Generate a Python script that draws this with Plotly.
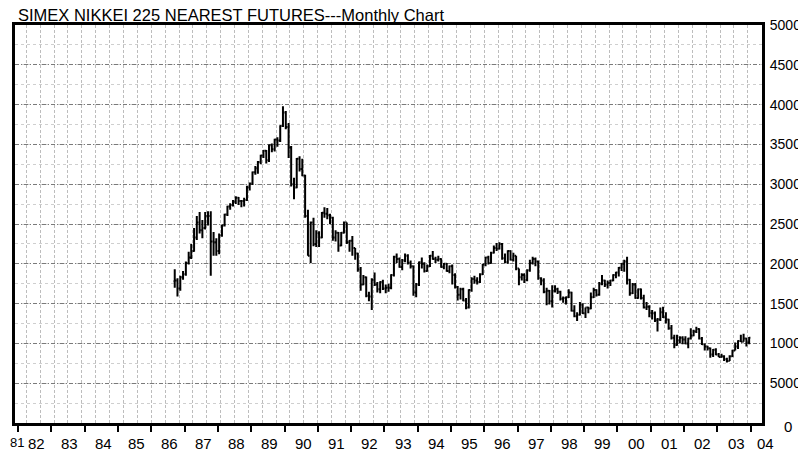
import pandas as pd
import plotly.graph_objects as go

# monthly bars, Sep 1986 .. Dec 2003 (yen)
open_ = [
    17800, 17900, 16900, 18300,  # 1986 Sep-Dec
    18700, 20100, 20800, 21600, 23300, 25200, 24200, 24500, 26000, 26000, 22800, 22700,  # 1987
    21600, 23600, 24800, 26200, 27200, 27400, 27800, 28300, 27900, 27900, 28000, 29600,  # 1988
    30100, 31500, 32000, 32800, 33600, 34200, 33000, 34900, 34400, 35600, 35500, 37300,  # 1989
    39000, 37200, 34600, 30000, 29600, 33200, 31900, 31100, 26000, 21000, 25200, 22500,  # 1990
    23800, 23300, 26400, 26300, 26100, 25800, 23300, 23900, 22300, 23900, 25200, 22700,  # 1991
    22900, 22000, 21300, 19300, 17400, 18300, 16000, 15900, 18000, 17400, 16800, 17700,  # 1992
    16900, 17000, 17000, 18600, 20900, 20600, 19600, 20400, 21000, 20100, 19700, 16400,  # 1993
    17400, 20200, 20000, 19100, 19700, 21000, 20600, 20500, 20600, 19600, 20000, 19100,  # 1994
    19700, 18600, 17100, 16100, 16800, 15400, 14500, 16700, 18100, 17900, 17700, 18700,  # 1995
    19900, 20800, 20100, 21400, 22000, 21900, 22500, 20700, 20200, 21600, 20500, 21000,  # 1996
    19400, 18300, 18600, 18000, 19200, 20100, 20600, 20300, 18200, 17900, 16500, 16600,  # 1997
    15300, 16600, 16800, 16500, 15600, 15700, 15800, 16400, 14100, 13400, 13600, 14900,  # 1998
    13800, 14500, 14400, 15800, 16700, 16100, 17500, 17900, 17400, 17600, 17900, 18600,  # 1999
    18900, 19500, 20000, 20300, 18000, 16300, 17400, 15700, 16800, 15700, 14500, 14600,  # 2000
    13800, 13800, 12900, 13000, 13900, 13300, 13000, 11900, 10700, 9800, 10400, 10700,    # 2001
    10500, 10000, 10600, 11000, 11500, 11800, 10600, 9900, 9600, 9400, 8600, 9200,        # 2002
    8600, 8300, 8400, 8000, 7800, 8400, 9100, 9600, 10300, 10200, 10600, 10100,           # 2003
]
high = [
    19300, 18200, 18500, 19100,
    20300, 21500, 22500, 24500, 26000, 26500, 25500, 26500, 26600, 26600, 24000, 23200,
    23800, 24900, 26300, 27300, 27600, 28000, 28500, 28400, 28000, 28300, 29800, 30200,
    31600, 32300, 32900, 33700, 34300, 34300, 35000, 35100, 35700, 35900, 37400, 39800,
    39200, 37700, 34800, 30800, 33300, 33500, 33200, 31200, 26800, 25300, 25800, 24200,
    24100, 26500, 27100, 27000, 26300, 25900, 24200, 24000, 24000, 25300, 25200, 23000,
    23500, 22000, 21400, 19600, 18600, 18400, 16500, 18200, 18900, 17700, 17800, 18000,
    17400, 17500, 18700, 21000, 21300, 20800, 20600, 21300, 21200, 20400, 19800, 17600,
    20300, 20800, 20200, 19900, 21100, 21600, 20900, 21000, 20700, 20100, 20100, 19800,
    19900, 18800, 17200, 17000, 17000, 15700, 16800, 18300, 18500, 18300, 18800, 20000,
    20900, 21000, 21500, 22300, 22600, 22700, 22600, 21300, 21700, 21700, 21400, 21000,
    19400, 18800, 18800, 19300, 20500, 20900, 20800, 20400, 18300, 18200, 17000, 16700,
    17300, 17300, 17000, 16600, 15900, 15900, 16800, 16500, 14800, 13900, 15200, 15000,
    14500, 14600, 16400, 17000, 16800, 17700, 18600, 18000, 17900, 18000, 18700, 19000,
    19600, 20100, 20500, 20900, 18100, 17600, 17600, 16900, 16900, 16100, 15200, 14800,
    14200, 14000, 13200, 14500, 14600, 13900, 13100, 12300, 11100, 11100, 10900, 10900,
    10900, 10700, 11900, 11700, 12100, 11900, 10800, 10000, 9700, 9500, 9300, 9400,
    8800, 8700, 8500, 8200, 8500, 9200, 10100, 10400, 11100, 11200, 10700, 10800,
]
low = [
    17000, 15900, 16600, 18000,
    18500, 19900, 20600, 21500, 23000, 23800, 23200, 24300, 24800, 18500, 21000, 21000,
    21200, 23400, 24700, 26000, 26800, 27200, 27500, 27400, 27100, 27200, 27900, 29200,
    29900, 31200, 31300, 32500, 33300, 32600, 32800, 34000, 34100, 34700, 35300, 37200,
    36900, 33300, 29700, 28100, 29500, 31600, 31000, 25800, 21000, 20100, 22200, 22100,
    22100, 23200, 25800, 25600, 25000, 22900, 22800, 21500, 22200, 23800, 22500, 21500,
    21000, 20500, 19000, 16600, 17300, 15800, 15300, 14200, 17200, 16400, 16300, 16700,
    16300, 16500, 16800, 18400, 20100, 19500, 19200, 20200, 19900, 19400, 16000, 15800,
    17200, 19400, 18900, 19000, 19600, 20500, 20100, 20300, 19500, 19300, 19000, 18800,
    17400, 16900, 15400, 15500, 15300, 14300, 14400, 16500, 17500, 17400, 17600, 18600,
    19700, 19900, 20000, 21300, 21600, 21800, 20500, 20100, 20000, 20400, 20300, 19200,
    17300, 17900, 17600, 17800, 19000, 19900, 19700, 18000, 17300, 16300, 14800, 14900,
    14500, 16400, 16200, 15400, 15100, 14900, 15700, 14000, 13300, 12800, 13500, 13700,
    13200, 13800, 14300, 15700, 15900, 16000, 17300, 17100, 16900, 17200, 17800, 18200,
    18400, 19100, 19000, 17400, 16000, 16200, 15600, 15600, 15500, 14400, 14200, 13300,
    13000, 12700, 11500, 12800, 13200, 12500, 11700, 10500, 9400, 9700, 10000, 9900,
    9900, 9400, 10500, 10900, 11300, 10500, 9800, 9100, 9100, 8200, 8300, 8500,
    8300, 8200, 7800, 7600, 7800, 8300, 9100, 9300, 10200, 10200, 9600, 9900,
]
close = [
    17900, 16900, 18300, 18700,
    20100, 20800, 21600, 23300, 25200, 24200, 24500, 26000, 26000, 22800, 22700, 21600,
    23600, 24800, 26200, 27200, 27400, 27800, 28300, 27900, 27900, 28000, 29600, 30100,
    31500, 32000, 32800, 33600, 34200, 33000, 34900, 34400, 35600, 35500, 37300, 39000,
    37200, 34600, 30000, 29600, 33200, 31900, 31100, 26000, 21000, 25200, 22500, 23800,
    23300, 26400, 26300, 26100, 25800, 23300, 23900, 22300, 23900, 25200, 22700, 22900,
    22000, 21300, 19300, 17400, 18300, 16000, 15900, 18000, 17400, 16800, 17700, 16900,
    17000, 17000, 18600, 20900, 20600, 19600, 20400, 21000, 20100, 19700, 16400, 17400,
    20200, 20000, 19100, 19700, 21000, 20600, 20500, 20600, 19600, 20000, 19100, 19700,
    18600, 17100, 16100, 16800, 15400, 14500, 16700, 18100, 17900, 17700, 18700, 19900,
    20800, 20100, 21400, 22000, 21900, 22500, 20700, 20200, 21600, 20500, 21000, 19400,
    18300, 18600, 18000, 19200, 20100, 20600, 20300, 18200, 17900, 16500, 16600, 15300,
    16600, 16800, 16500, 15600, 15700, 15800, 16400, 14100, 13400, 13600, 14900, 13800,
    14500, 14400, 15800, 16700, 16100, 17500, 17900, 17400, 17600, 17900, 18600, 18900,
    19500, 20000, 20300, 18000, 16300, 17400, 15700, 16800, 15700, 14500, 14600, 13800,
    13800, 12900, 13000, 13900, 13300, 13000, 11900, 10700, 9800, 10400, 10700, 10500,
    10000, 10600, 11000, 11500, 11800, 10600, 9900, 9600, 9400, 8600, 9200, 8600,
    8300, 8400, 8000, 7800, 8400, 9100, 9600, 10300, 10200, 10600, 10100, 10700,
]

years = list(range(1981, 2005))
price_ticks = [0, 5000, 10000, 15000, 20000, 25000, 30000, 35000, 40000, 45000, 50000]
price_labels = ["", "5000", "10000", "15000", "20000", "25000", "30000",
                "35000", "40000", "45000", "50000"]
title_text = "SIMEX NIKKEI 225 NEAREST FUTURES---Monthly Chart"

months = pd.date_range("1986-09-01", periods=len(close), freq="MS") + pd.Timedelta(days=14)
x_range = ["1981-11-28", "2004-05-04"]
FONT = "Liberation Sans, Arial, Helvetica, sans-serif"

fig = go.Figure()
fig.add_trace(go.Ohlc(
    x=months, open=open_, high=high, low=low, close=close,
    increasing=dict(line=dict(color="black", width=2)),
    decreasing=dict(line=dict(color="black", width=2)),
    tickwidth=0.5, hoverinfo="skip", showlegend=False,
))
# empty trace so the year-tick axis gets drawn
fig.add_trace(go.Scatter(x=[], y=[], xaxis="x2", yaxis="y", showlegend=False, hoverinfo="skip"))

# the page body adds an 8px margin, so the figure is 8px smaller each way
fig.update_layout(
    width=798, height=443,
    margin=dict(l=7, r=44, t=17, b=28),
    paper_bgcolor="white", plot_bgcolor="white",
    showlegend=False,
    font=dict(family=FONT, color="black"),
    xaxis=dict(
        type="date", range=x_range, automargin=False,
        rangeslider=dict(visible=False),
        tick0="1982-04-01", dtick="M5",
        showgrid=True, gridcolor="#bdbdbd", griddash="3px,2px", gridwidth=1,
        showticklabels=False, ticks="",
        showline=True, linecolor="black", linewidth=3, mirror=True,
        zeroline=False,
    ),
    xaxis2=dict(
        type="date", range=x_range, overlaying="x", anchor="y", side="bottom",
        automargin=False,
        tickmode="array", tickvals=[f"{y}-01-01" for y in years[1:]],
        ticks="outside", ticklen=8, tickwidth=1.5, tickcolor="black",
        showticklabels=False, showgrid=False, showline=False, zeroline=False,
    ),
    yaxis=dict(
        range=[0, 50000], side="right", automargin=False,
        tickmode="array", tickvals=price_ticks, ticktext=price_labels,
        tickfont=dict(size=14, family=FONT),
        ticks="", ticklabelstandoff=2,
        showgrid=True, gridcolor="#7a7a7a", griddash="4px,2px,1px,2px", gridwidth=1,
        minor=dict(dtick=2500, tick0=0, showgrid=True, gridcolor="#cfcfcf",
                   griddash="dot", gridwidth=1),
        showline=True, linecolor="black", linewidth=3, mirror=True,
        zeroline=False,
    ),
)

# year labels sit in the middle of each year; the two end ones are pinned to the frame
for y in years:
    size = 15
    if y == 1981:
        xpos, anchor, shift, size = "1981-12-01", "left", -7, 13
    elif y == 2004:
        xpos, anchor, shift = "2004-05-01", "center", 4
    else:
        xpos, anchor, shift = f"{y}-07-02", "center", 2
    fig.add_annotation(
        x=xpos, xref="x", y=0, yref="paper",
        yanchor="top", xanchor=anchor, xshift=shift, yshift=-10,
        text=f"{y % 100:02d}", showarrow=False,
        font=dict(size=size, family=FONT),
    )

fig.add_annotation(x=1, xref="paper", y=0, yref="y", xanchor="left", yanchor="middle",
                   xshift=20, yshift=-3, text="0", showarrow=False,
                   font=dict(size=15, family=FONT))

fig.add_annotation(x=0, xref="paper", y=1, yref="paper", xanchor="left", yanchor="bottom",
                   xshift=1, yshift=-1, text=title_text, showarrow=False,
                   font=dict(size=16.5, family=FONT))

fig.write_html("out.html")
